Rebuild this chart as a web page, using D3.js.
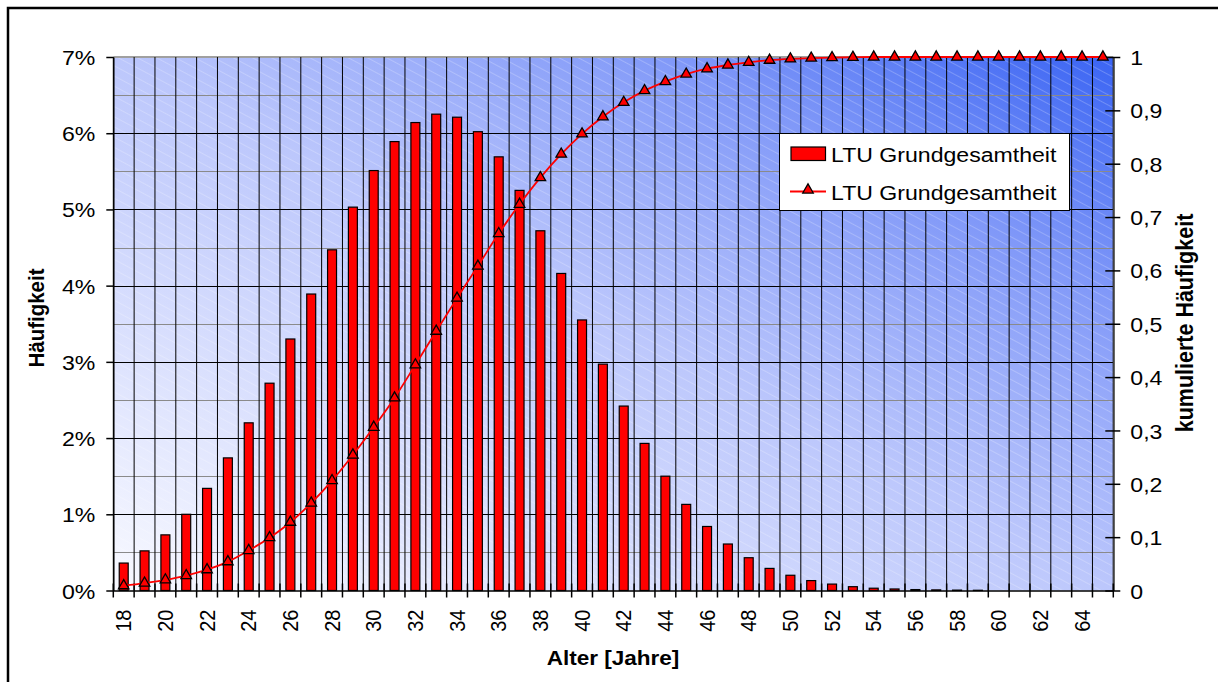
<!DOCTYPE html>
<html>
<head>
<meta charset="utf-8">
<script src="https://cdn.jsdelivr.net/npm/d3@7"></script>
<style>
  html, body { margin: 0; padding: 0; background: #ffffff; }
  svg { display: block; }
  text { font-family: "Liberation Sans", Arial, sans-serif; fill: #000; font-weight: normal; }
</style>
</head>
<body>
<svg id="chart" width="1218" height="682"></svg>
<script>
// ---------- data ----------
const ages = [18,19,20,21,22,23,24,25,26,27,28,29,30,31,32,33,34,35,36,37,38,39,40,41,
              42,43,44,45,46,47,48,49,50,51,52,53,54,55,56,57,58,59,60,61,62,63,64,65];
const haeufigkeit = [0.36,0.52,0.73,1.00,1.34,1.74,2.20,2.72,3.30,3.89,4.47,5.03,5.51,5.89,6.14,6.25,
                     6.21,6.02,5.69,5.25,4.72,4.16,3.55,2.97,2.42,1.93,1.50,1.13,0.84,0.61,0.43,0.29,
                     0.20,0.13,0.084,0.05,0.03,0.02,0.012,0.008,0.005,0.003,0,0,0,0,0,0];
const kumuliert = [0.009,0.014,0.020,0.028,0.039,0.054,0.075,0.099,0.128,0.164,0.206,0.254,0.306,0.361,
                   0.423,0.486,0.548,0.608,0.669,0.724,0.774,0.818,0.856,0.888,0.915,0.937,0.954,0.968,
                   0.978,0.985,0.990,0.994,0.9965,0.998,0.999,0.9995,1,1,1,1,1,1,1,1,1,1,1,1];
const xTickLabels = [18,20,22,24,26,28,30,32,34,36,38,40,42,44,46,48,50,52,54,56,58,60,62,64];
const leftTicks = [0,1,2,3,4,5,6,7];
const rightTicks = [0,0.1,0.2,0.3,0.4,0.5,0.6,0.7,0.8,0.9,1];
const seriesName = "LTU Grundgesamtheit";
const xTitle = "Alter [Jahre]";
const yTitle = "Häufigkeit";
const y2Title = "kumulierte Häufigkeit";

// ---------- layout ----------
const X0 = 113.3, X1 = 1113.3, Y0 = 57, Y1 = 590.5;
const SX = 1.1; // horizontal text stretch of the original rendering
const FONT = "'Liberation Sans', Arial, sans-serif";

const svg = d3.select("#chart");
const defs = svg.append("defs");

const x = d3.scaleBand().domain(ages).range([X0, X1]).padding(0);
const y = d3.scaleLinear().domain([0, 7]).range([Y1, Y0]);
const y2 = d3.scaleLinear().domain([0, 1]).range([Y1, Y0]);
const bw = x.bandwidth();
const barW = bw * 0.43;

// background gradient
const grad = defs.append("linearGradient").attr("id", "bg")
  .attr("x1", 0).attr("y1", 1).attr("x2", 1).attr("y2", 0);
grad.append("stop").attr("offset", 0).attr("stop-color", "#f8f9ff");
grad.append("stop").attr("offset", 0.5).attr("stop-color", "#bcc7fc");
grad.append("stop").attr("offset", 0.78).attr("stop-color", "#8098f8");
grad.append("stop").attr("offset", 1).attr("stop-color", "#3a64f3");

const pat = defs.append("pattern").attr("id", "hatch")
  .attr("patternUnits", "userSpaceOnUse").attr("width", 9).attr("height", 9)
  .attr("patternTransform", "rotate(28)");
pat.append("line").attr("x1", 0).attr("y1", 4.5).attr("x2", 9).attr("y2", 4.5)
  .attr("stroke", "#ffffff").attr("stroke-opacity", 0.22).attr("stroke-width", 1);

// outer frame (only left/top visible)
svg.append("rect").attr("x", 8).attr("y", 8).attr("width", 1400).attr("height", 900)
  .attr("fill", "none").attr("stroke", "#000").attr("stroke-width", 2.5);

// plot background
svg.append("rect").attr("x", X0).attr("y", Y0).attr("width", X1 - X0).attr("height", Y1 - Y0)
  .attr("fill", "url(#bg)");
svg.append("rect").attr("x", X0).attr("y", Y0).attr("width", X1 - X0).attr("height", Y1 - Y0)
  .attr("fill", "url(#hatch)");

// horizontal grid
const hGrid = [0.5,1,1.5,2,2.5,3,3.5,4,4.5,5,5.5,6,6.5];
svg.append("g").selectAll("line").data(hGrid).join("line")
  .attr("x1", X0).attr("x2", X1)
  .attr("y1", d => Math.round(y(d)) + 0.5).attr("y2", d => Math.round(y(d)) + 0.5)
  .attr("stroke", d => Number.isInteger(d) ? "#000" : "#8a8a8a")
  .attr("stroke-width", 1);
// top border
svg.append("line").attr("x1", X0).attr("x2", X1).attr("y1", Y0).attr("y2", Y0)
  .attr("stroke", "#a0a0a0").attr("stroke-width", 2);

// vertical grid at category boundaries
const bounds = ages.map(a => x(a)).concat([X1]);
svg.append("g").selectAll("line").data(bounds).join("line")
  .attr("x1", d => d).attr("x2", d => d).attr("y1", Y0).attr("y2", Y1)
  .attr("stroke", "#000").attr("stroke-width", 1);

// bars
svg.append("g").selectAll("rect").data(ages).join("rect")
  .attr("x", (a) => x(a) + (bw - barW) / 2)
  .attr("width", barW)
  .attr("y", (a, i) => y(haeufigkeit[i]))
  .attr("height", (a, i) => Y1 - y(haeufigkeit[i]))
  .attr("fill", "#ff0000").attr("stroke", "#000").attr("stroke-width", 1.2)
  .style("display", (a, i) => haeufigkeit[i] > 0 ? null : "none");

// axes
const leftAxis = svg.append("g").attr("transform", `translate(${X0},0)`)
  .call(d3.axisLeft(y).tickValues(leftTicks).tickFormat(d => d + "%").tickSize(7).tickSizeOuter(0));
leftAxis.attr("font-family", null).attr("font-size", null);
leftAxis.select(".domain").attr("stroke", "#000").attr("stroke-width", 1.5);
leftAxis.selectAll(".tick line").attr("stroke", "#000").attr("stroke-width", 1.5);
leftAxis.selectAll(".tick text")
  .attr("x", null).attr("dy", "0.36em")
  .attr("transform", `translate(-18,0) scale(${SX},1)`)
  .style("font-size", "21px").style("font-family", FONT);

const rightAxis = svg.append("g").attr("transform", `translate(${X1},0)`)
  .call(d3.axisRight(y2).tickValues(rightTicks).tickFormat(d => String(d).replace(".", ",")).tickSize(7).tickSizeOuter(0));
rightAxis.attr("font-family", null).attr("font-size", null);
rightAxis.select(".domain").attr("stroke", "#404040").attr("stroke-width", 2);
rightAxis.selectAll(".tick line").attr("x1", -8).attr("x2", 7).attr("stroke", "#000").attr("stroke-width", 1.5);
rightAxis.selectAll(".tick text")
  .attr("x", null).attr("dy", "0.36em")
  .attr("transform", `translate(17,0) scale(${SX},1)`)
  .style("font-size", "21px").style("font-family", FONT);

// bottom axis: labels via band scale, ticks at boundaries
const bottomAxis = svg.append("g").attr("transform", `translate(0,${Y1})`)
  .call(d3.axisBottom(x).tickValues(xTickLabels).tickSize(0).tickSizeOuter(0));
bottomAxis.attr("font-family", null).attr("font-size", null);
bottomAxis.select(".domain").attr("stroke", "#000").attr("stroke-width", 1.5);
bottomAxis.selectAll(".tick text")
  .attr("y", null).attr("dy", "0.35em").attr("text-anchor", "end")
  .attr("transform", `translate(0,19) scale(${SX},1) rotate(-90)`)
  .style("font-size", "20px").style("font-family", FONT);
svg.append("g").selectAll("line").data(bounds).join("line")
  .attr("x1", d => d).attr("x2", d => d).attr("y1", Y1 - 7).attr("y2", Y1 + 7)
  .attr("stroke", "#000").attr("stroke-width", 1.5);

// cumulative line
const line = d3.line()
  .x((d, i) => x(ages[i]) + bw / 2)
  .y(d => y2(d))
  .curve(d3.curveMonotoneX);
svg.append("path").datum(kumuliert).attr("d", line)
  .attr("fill", "none").attr("stroke", "#ff0000").attr("stroke-width", 1.8);

const tri = d3.symbol().type(d3.symbolTriangle).size(48);
svg.append("g").selectAll("path").data(kumuliert).join("path")
  .attr("d", tri)
  .attr("transform", (d, i) => `translate(${x(ages[i]) + bw / 2},${y2(d)})`)
  .attr("fill", "#ff0000").attr("stroke", "#000").attr("stroke-width", 1.3);

// axis titles
svg.append("text").text(xTitle)
  .attr("text-anchor", "middle")
  .attr("transform", `translate(613,665) scale(${SX},1)`)
  .style("font-size", "20.5px").style("font-weight", "bold");
svg.append("text").text(yTitle)
  .attr("text-anchor", "middle")
  .attr("transform", `translate(43.5,318) scale(${SX},1) rotate(-90)`)
  .style("font-size", "20.5px").style("font-weight", "bold");
svg.append("text").text(y2Title)
  .attr("text-anchor", "middle")
  .attr("transform", `translate(1193,323) scale(${SX},1) rotate(-90)`)
  .style("font-size", "21.5px").style("font-weight", "bold");

// legend
const lg = svg.append("g");
lg.append("rect").attr("x", 779.5).attr("y", 133.5).attr("width", 290).attr("height", 77)
  .attr("fill", "#ffffff").attr("stroke", "#000").attr("stroke-width", 1);
lg.append("rect").attr("x", 791).attr("y", 147).attr("width", 34.5).attr("height", 13.5)
  .attr("fill", "#ff0000").attr("stroke", "#000").attr("stroke-width", 1.2);
lg.append("text").text(seriesName)
  .attr("transform", `translate(831,161.5) scale(${SX},1)`)
  .style("font-size", "21px");
lg.append("line").attr("x1", 790).attr("x2", 826).attr("y1", 191.5).attr("y2", 191.5)
  .attr("stroke", "#ff0000").attr("stroke-width", 1.8);
lg.append("path").attr("d", tri).attr("transform", "translate(808,190)")
  .attr("fill", "#ff0000").attr("stroke", "#000").attr("stroke-width", 1.3);
lg.append("text").text(seriesName)
  .attr("transform", `translate(831,200) scale(${SX},1)`)
  .style("font-size", "21px");
</script>
</body>
</html>
